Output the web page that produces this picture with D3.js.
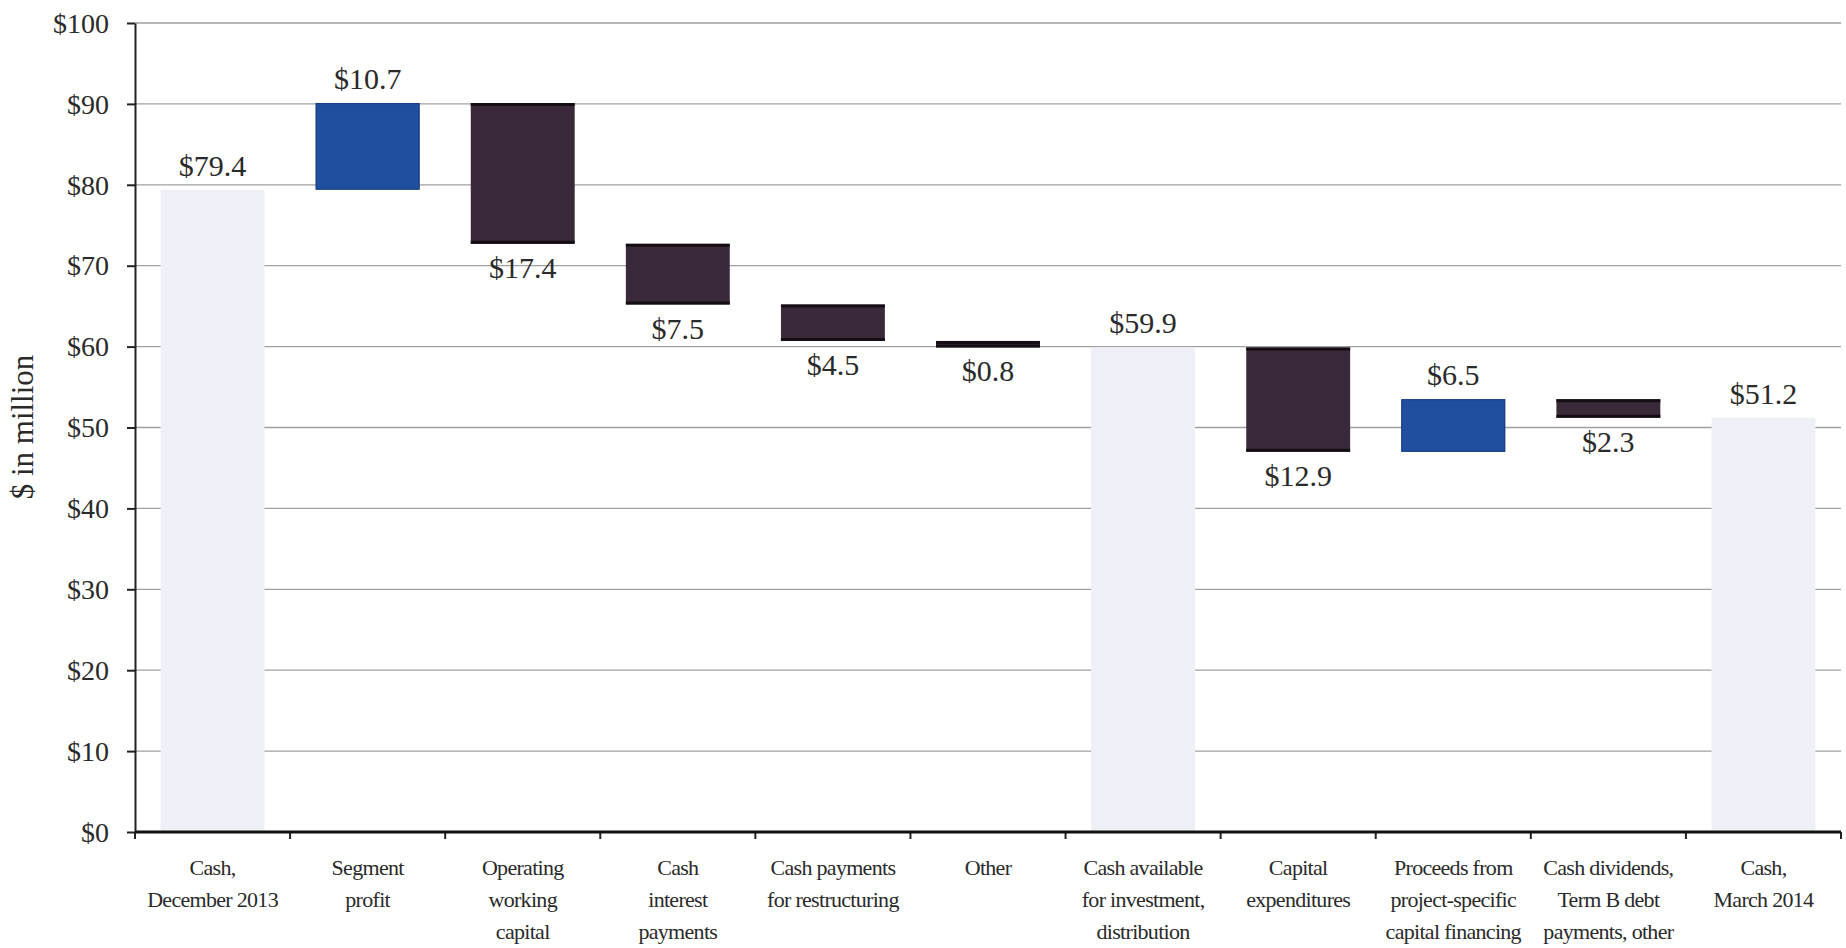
<!DOCTYPE html>
<html>
<head>
<meta charset="utf-8">
<script src="https://cdn.jsdelivr.net/npm/d3@7/dist/d3.min.js"></script>
<style>
  html, body { margin: 0; padding: 0; background: #ffffff; }
  svg { display: block; }
</style>
</head>
<body>
<svg id="chart" width="1846" height="948"></svg>
<script>
// ---- data ----
const categories = [
  "Cash, December 2013", "Segment profit", "Operating working capital",
  "Cash interest payments", "Cash payments for restructuring", "Other",
  "Cash available for investment, distribution", "Capital expenditures",
  "Proceeds from project-specific capital financing",
  "Cash dividends, Term B debt payments, other", "Cash, March 2014"
];
const categoryLines = [
  ["Cash,", "December 2013"],
  ["Segment", "profit"],
  ["Operating", "working", "capital"],
  ["Cash", "interest", "payments"],
  ["Cash payments", "for restructuring"],
  ["Other"],
  ["Cash available", "for investment,", "distribution"],
  ["Capital", "expenditures"],
  ["Proceeds from", "project-specific", "capital financing"],
  ["Cash dividends,", "Term B debt", "payments, other"],
  ["Cash,", "March 2014"]
];
const barTypes = ["total", "up", "down", "down", "down", "down", "total", "down", "up", "down", "total"];
const values = [79.4, 10.7, 17.4, 7.5, 4.5, 0.8, 59.9, 12.9, 6.5, 2.3, 51.2];
const valueLabels = ["$79.4", "$10.7", "$17.4", "$7.5", "$4.5", "$0.8", "$59.9", "$12.9", "$6.5", "$2.3", "$51.2"];
const yTicks = [0, 10, 20, 30, 40, 50, 60, 70, 80, 90, 100];
const yTitle = "$ in million";

// ---- build waterfall segments from the values ----
let running = 0;
const bars = categories.map((c, i) => {
  const t = barTypes[i], v = values[i];
  let y0, y1;
  if (t === "total") { y0 = 0; y1 = v; running = v; }
  else if (t === "up") { y0 = running; y1 = running + v; running = y1; }
  else { y0 = running - v; y1 = running; running = y0; }
  return { cat: c, type: t, y0, y1, label: valueLabels[i], lines: categoryLines[i] };
});

const svg = d3.select("#chart");
const x = d3.scaleBand().domain(categories).range([135, 1841]).paddingInner(0.33).paddingOuter(0.165);
const y = d3.scaleLinear().domain([0, 100]).range([832, 23]);

const serif = "'Liberation Serif', 'Times New Roman', serif";

// gridlines
svg.append("g").selectAll("line").data(yTicks.filter(d => d > 0)).join("line")
  .attr("x1", 135).attr("x2", 1841)
  .attr("y1", d => y(d)).attr("y2", d => y(d))
  .attr("stroke", "#a0a0a0").attr("stroke-width", 1.3);

// bars
const colors = { total: "#eff0f7", up: "#1f4f9e", down: "#3a2a39" };
const g = svg.append("g");
g.selectAll("rect").data(bars).join("rect")
  .attr("x", d => x(d.cat))
  .attr("width", x.bandwidth())
  .attr("y", d => y(d.y1))
  .attr("height", d => y(d.y0) - y(d.y1))
  .attr("fill", d => colors[d.type]);

// dark edges on decrease bars (top and bottom)
const downs = bars.filter(d => d.type === "down");
g.selectAll("line.top").data(downs).join("line").attr("class", "top")
  .attr("x1", d => x(d.cat)).attr("x2", d => x(d.cat) + x.bandwidth())
  .attr("y1", d => y(d.y1) + 1.5).attr("y2", d => y(d.y1) + 1.5)
  .attr("stroke", "#150c14").attr("stroke-width", 3);
g.selectAll("line.bot").data(downs).join("line").attr("class", "bot")
  .attr("x1", d => x(d.cat)).attr("x2", d => x(d.cat) + x.bandwidth())
  .attr("y1", d => y(d.y0) - 1.5).attr("y2", d => y(d.y0) - 1.5)
  .attr("stroke", "#150c14").attr("stroke-width", 3);
// thin outline for increase bars
g.selectAll("rect.upo").data(bars.filter(d => d.type === "up")).join("rect").attr("class", "upo")
  .attr("x", d => x(d.cat) + 0.5).attr("width", x.bandwidth() - 1)
  .attr("y", d => y(d.y1) + 0.5).attr("height", d => y(d.y0) - y(d.y1) - 1)
  .attr("fill", "none").attr("stroke", "#163d80").attr("stroke-width", 1);

// value labels
svg.append("g").selectAll("text").data(bars).join("text")
  .attr("x", d => x(d.cat) + x.bandwidth() / 2)
  .attr("y", d => d.type === "down" ? y(d.y0) + 34 : y(d.y1) - 14)
  .attr("text-anchor", "middle")
  .attr("font-family", serif)
  .attr("font-size", 30)
  .attr("fill", "#2a2a2a")
  .text(d => d.label);

// y axis
const yAxis = d3.axisLeft(y).tickValues(yTicks).tickFormat(d => "$" + d).tickSize(8).tickSizeOuter(0);
const ya = svg.append("g").attr("transform", "translate(135,0)").call(yAxis);
ya.select(".domain").attr("stroke", "#222").attr("stroke-width", 2);
ya.selectAll(".tick line").attr("stroke", "#222").attr("stroke-width", 2);
ya.selectAll(".tick text").attr("font-family", serif).attr("font-size", 28).attr("fill", "#2a2a2a").attr("x", -26).attr("dy", "0.33em");

// x axis: boundary ticks
const boundaries = categories.map(c => x(c) - x.step() * x.paddingInner() / 2).concat([1841]);
svg.append("g").selectAll("line").data(boundaries).join("line")
  .attr("x1", d => d).attr("x2", d => d)
  .attr("y1", y(0)).attr("y2", y(0) + 7)
  .attr("stroke", "#222").attr("stroke-width", 2);
svg.append("line").attr("x1", 135).attr("x2", 1841).attr("y1", y(0)).attr("y2", y(0))
  .attr("stroke", "#111").attr("stroke-width", 3);

// category labels
const cl = svg.append("g").selectAll("text").data(bars).join("text")
  .attr("x", d => x(d.cat) + x.bandwidth() / 2)
  .attr("y", 875)
  .attr("text-anchor", "middle")
  .attr("font-family", serif)
  .attr("font-size", 22)
  .attr("letter-spacing", "-0.7px")
  .attr("fill", "#2a2a2a");
cl.selectAll("tspan").data(d => d.lines.map((l, i) => ({ l, i, cx: x(d.cat) + x.bandwidth() / 2 }))).join("tspan")
  .attr("x", d => d.cx)
  .attr("dy", d => d.i === 0 ? 0 : 32)
  .text(d => d.l);

// y axis title
svg.append("text")
  .attr("transform", "translate(33,427) rotate(-90)")
  .attr("text-anchor", "middle")
  .attr("font-family", serif)
  .attr("font-size", 31)
  .attr("fill", "#2a2a2a")
  .text(yTitle);
</script>
</body>
</html>
